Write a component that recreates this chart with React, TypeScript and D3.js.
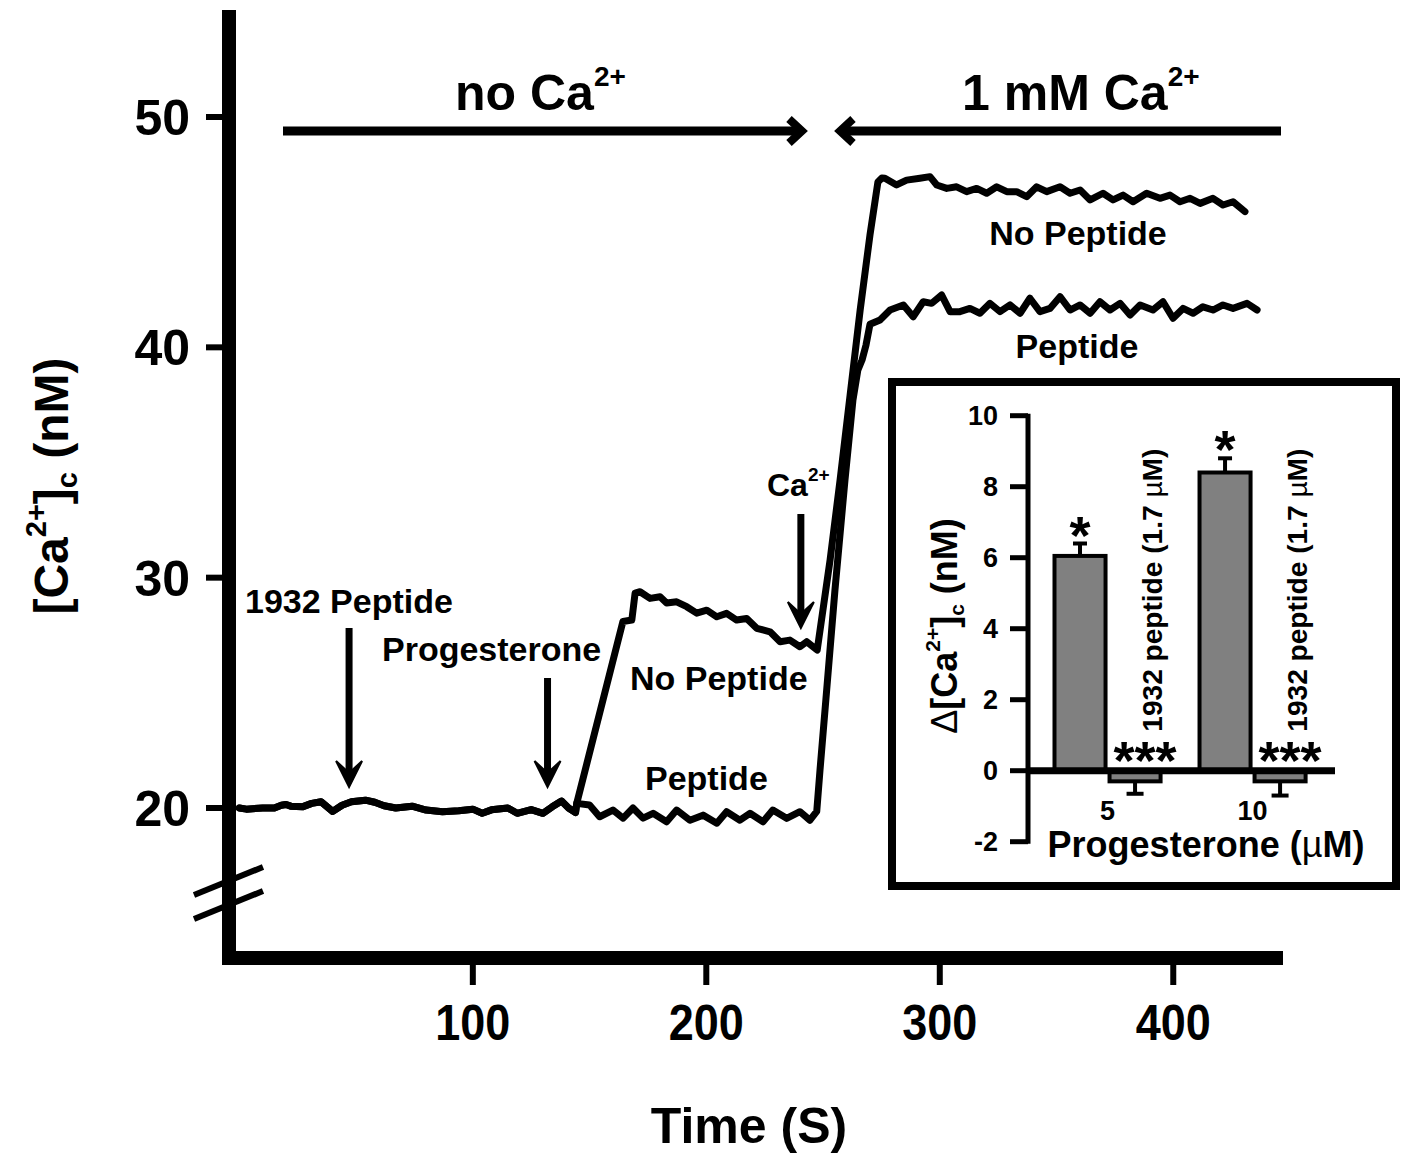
import React from "react";
import * as d3 from "d3";

// ---------- main trace data (time in s, [Ca2+]c in nM) ----------
const baselineTime = [0, 3, 10, 15, 18, 20, 22, 27, 31, 35, 40, 44, 48, 54, 58, 62, 67, 74, 80, 87, 94, 100, 104, 108, 115, 119, 125, 130, 134, 138, 141, 144];
const baselineCa = [20.0, 19.95, 20.0, 20.0, 20.12, 20.15, 20.08, 20.05, 20.2, 20.27, 19.85, 20.12, 20.27, 20.34, 20.25, 20.1, 20.0, 20.08, 19.91, 19.84, 19.88, 19.95, 19.77, 19.92, 20.0, 19.77, 19.93, 19.77, 20.05, 20.3, 20.0, 19.8];

const noPeptideTime = [144.5, 164.3, 168.1, 169.5, 171.6, 175.9, 180.2, 183, 187.3, 191.6, 195.9, 200.2, 204.5, 208.7, 213, 217.3, 221.6, 227.3, 231.6, 235.8, 240.1, 243, 247.5, 253, 257.3, 261.6, 265.9, 270.1, 273.5, 275.2, 276.5, 281.5, 285.8, 291.5, 295.8, 298.7, 303, 307.2, 311.5, 315.8, 320.1, 324.4, 328.7, 332.9, 337.2, 341.5, 345.8, 351.5, 355.8, 360.1, 364.4, 369.9, 374.2, 378.5, 382.8, 388.6, 394.3, 398.6, 402.9, 407.2, 411.5, 417, 421.3, 425.6, 430.7];
const noPeptideCa = [20.2, 28.1, 28.16, 29.33, 29.39, 29.1, 29.17, 28.9, 28.95, 28.74, 28.46, 28.59, 28.3, 28.45, 28.16, 28.23, 27.8, 27.65, 27.22, 27.29, 27.0, 27.22, 26.86, 30.76, 34.24, 37.93, 41.62, 44.88, 47.18, 47.35, 47.34, 47.05, 47.26, 47.34, 47.41, 47.05, 46.9, 46.97, 46.76, 46.9, 46.69, 46.97, 46.76, 46.76, 46.54, 46.97, 46.76, 46.97, 46.69, 46.83, 46.4, 46.69, 46.4, 46.61, 46.32, 46.69, 46.47, 46.61, 46.32, 46.47, 46.25, 46.47, 46.18, 46.32, 45.89];

const peptideTime = [144.5, 150, 154.3, 160, 164.4, 168.6, 172.9, 177.2, 183, 187.3, 193, 198.6, 204.5, 208.7, 214.4, 218.7, 224.3, 228.5, 234.4, 240.1, 244.4, 247.3, 248.7, 251.2, 255.1, 259.4, 262.8, 264.9, 266.7, 268.4, 270.1, 274.4, 278.7, 284.4, 288.6, 292.9, 296.5, 300.8, 304.4, 308.6, 312.9, 317.2, 321.5, 325.8, 330.1, 334.4, 338.6, 342.9, 347.2, 351.5, 355.8, 360.1, 364.4, 368.6, 372.9, 377.2, 381.5, 385.8, 391.3, 395.6, 399.9, 404.2, 408.5, 412.7, 417, 421.3, 425.6, 431.6, 435.9];
const peptideCa = [20.2, 20.13, 19.62, 19.91, 19.56, 20.0, 19.56, 19.77, 19.4, 19.91, 19.47, 19.69, 19.34, 19.84, 19.47, 19.77, 19.4, 19.91, 19.55, 19.84, 19.47, 19.85, 21.65, 24.69, 29.46, 34.24, 37.71, 39.01, 39.45, 40.1, 41.0, 41.19, 41.62, 41.84, 41.33, 41.98, 41.91, 42.27, 41.55, 41.55, 41.69, 41.48, 41.91, 41.55, 41.84, 41.48, 42.13, 41.55, 41.69, 42.2, 41.62, 41.84, 41.48, 41.98, 41.62, 41.91, 41.4, 41.84, 41.62, 41.98, 41.26, 41.69, 41.48, 41.76, 41.62, 41.84, 41.69, 41.91, 41.62];

const yTicks = [20, 30, 40, 50];
const xTicks = [100, 200, 300, 400];

// ---------- inset data ----------
const insetGroups = ["5", "10"];
const insetConditions = ["No peptide", "1932 peptide (1.7 µM)"];
const insetMeans = [[6.05, -0.3], [8.4, -0.3]];
const insetErrors = [[0.35, 0.35], [0.4, 0.4]];
const insetStars = [["*", "***"], ["*", "***"]];
const insetTicks = [-2, 0, 2, 4, 6, 8, 10];

const FONT = "'Liberation Sans', Arial, Helvetica, sans-serif";

function ArrowDown({ x, y1, y2 }: { x: number; y1: number; y2: number }) {
  return (
    <g>
      <line x1={x} x2={x} y1={y1} y2={y2 - 8} stroke="#000" strokeWidth={7} />
      <path d={`M${x - 13},${y2 - 26} L${x},${y2} L${x + 13},${y2 - 26} L${x},${y2 - 14} Z`} fill="#000" stroke="#000" strokeWidth={2} strokeLinejoin="miter" />
    </g>
  );
}

export default function App() {
  const x = d3.scaleLinear().domain([-4, 447]).range([230, 1283]);
  const y = d3.scaleLinear().domain([20, 50]).range([808, 117]);

  const line = d3
    .line<[number, number]>()
    .x((d) => x(d[0]))
    .y((d) => y(d[1]));

  const base: [number, number][] = baselineTime.map((t, i) => [t, baselineCa[i]]);
  const noPep: [number, number][] = base.concat(noPeptideTime.map((t, i) => [t, noPeptideCa[i]] as [number, number]));
  const pep: [number, number][] = base.concat(peptideTime.map((t, i) => [t, peptideCa[i]] as [number, number]));

  // inset scales
  const yIn = d3.scaleLinear().domain([-2, 10]).range([841.7, 415.7]);
  const xGroup = d3.scaleBand<string>().domain(insetGroups).range([1038, 1322.1]).paddingInner(0.241).paddingOuter(0.1);
  const xCond = d3.scaleBand<string>().domain(insetConditions).range([0, xGroup.bandwidth()]).padding(0);
  const bw = xCond.bandwidth();
  const starFs = 54;

  return (
    <svg width={1408} height={1158} style={{ position: "absolute", left: 0, top: 0, background: "#fff" }} fontFamily={FONT}>
      <rect x={0} y={0} width={1408} height={1158} fill="#fff" />

      {/* ----- main axes ----- */}
      <line x1={229} x2={229} y1={10} y2={965} stroke="#000" strokeWidth={14} />
      <line x1={222} x2={1283} y1={958} y2={958} stroke="#000" strokeWidth={14} />
      {yTicks.map((t) => (
        <g key={"yt" + t}>
          <line x1={206} x2={229} y1={y(t)} y2={y(t)} stroke="#000" strokeWidth={6} />
          <text x={190} y={y(t) + 18} textAnchor="end" fontSize={50} fontWeight="bold">{t}</text>
        </g>
      ))}
      {xTicks.map((t) => (
        <g key={"xt" + t}>
          <line x1={x(t)} x2={x(t)} y1={958} y2={985} stroke="#000" strokeWidth={6} />
          <g transform={`translate(${x(t)},1040) scale(0.9,1)`}>
            <text x={0} y={0} textAnchor="middle" fontSize={50} fontWeight="bold">{t}</text>
          </g>
        </g>
      ))}
      {/* axis break */}
      <line x1={194} x2={263} y1={895} y2={867} stroke="#000" strokeWidth={6} />
      <line x1={194} x2={263} y1={919} y2={891} stroke="#000" strokeWidth={6} />

      {/* axis titles */}
      <text x={749} y={1143} textAnchor="middle" fontSize={50} fontWeight="bold">Time (S)</text>
      <text transform="translate(68,486) rotate(-90)" textAnchor="middle" fontSize={48} fontWeight="bold">
        [Ca<tspan fontSize={29} dy={-22}>2+</tspan>
        <tspan dy={22}>]</tspan>
        <tspan fontSize={29} dy={9}>c</tspan>
        <tspan dy={-9}> (nM)</tspan>
      </text>

      {/* top bars */}
      <text x={455} y={110} fontSize={50} fontWeight="bold">no Ca<tspan fontSize={28} dy={-24}>2+</tspan></text>
      <text x={962} y={110} fontSize={50} fontWeight="bold">1 mM Ca<tspan fontSize={28} dy={-24}>2+</tspan></text>
      <line x1={283} x2={800} y1={131} y2={131} stroke="#000" strokeWidth={9} />
      <polyline points="789,119 802,131 789,143" fill="none" stroke="#000" strokeWidth={8} />
      <line x1={842} x2={1281} y1={131} y2={131} stroke="#000" strokeWidth={9} />
      <polyline points="853,119 840,131 853,143" fill="none" stroke="#000" strokeWidth={8} />

      {/* traces */}
      <path d={line(pep) || ""} fill="none" stroke="#000" strokeWidth={7} strokeLinejoin="round" strokeLinecap="round" />
      <path d={line(noPep) || ""} fill="none" stroke="#000" strokeWidth={7} strokeLinejoin="round" strokeLinecap="round" />

      {/* annotations */}
      <text x={245} y={613} fontSize={34} fontWeight="bold">1932 Peptide</text>
      <ArrowDown x={x(47)} y1={628} y2={787} />
      <text x={382} y={661} fontSize={34} fontWeight="bold">Progesterone</text>
      <ArrowDown x={x(132)} y1={678} y2={787} />
      <text x={630} y={690} fontSize={34} fontWeight="bold">No Peptide</text>
      <text x={645} y={790} fontSize={34} fontWeight="bold">Peptide</text>
      <text x={767} y={496} fontSize={32} fontWeight="bold">Ca<tspan fontSize={19} dy={-15}>2+</tspan></text>
      <ArrowDown x={x(240.5)} y1={514} y2={628} />
      <text x={1078} y={245} textAnchor="middle" fontSize={34} fontWeight="bold">No Peptide</text>
      <text x={1077} y={358} textAnchor="middle" fontSize={34} fontWeight="bold">Peptide</text>

      {/* ----- inset ----- */}
      <rect x={892} y={382} width={504} height={504} fill="#fff" stroke="#000" strokeWidth={8} />
      <line x1={1028} x2={1028} y1={yIn(10) - 2} y2={yIn(-2) + 2} stroke="#000" strokeWidth={5} />
      {insetTicks.map((t) => (
        <g key={"it" + t}>
          <line x1={1010} x2={1028} y1={yIn(t)} y2={yIn(t)} stroke="#000" strokeWidth={5} />
          <text x={998} y={yIn(t) + 9.5} textAnchor="end" fontSize={27} fontWeight="bold">{t}</text>
        </g>
      ))}
      {insetGroups.map((g, gi) => (
        <g key={"g" + g}>
          {insetConditions.map((c, ci) => {
            const m = insetMeans[gi][ci];
            const e = insetErrors[gi][ci];
            const bx = (xGroup(g) || 0) + (xCond(c) || 0);
            const cx = bx + bw / 2;
            const top = Math.min(yIn(m), yIn(0));
            const h = Math.abs(yIn(m) - yIn(0));
            const eEnd = m >= 0 ? m + e : m - e;
            const capW = m >= 0 ? 14 : 17;
            return (
              <g key={c}>
                <line x1={cx} x2={cx} y1={yIn(m)} y2={yIn(eEnd)} stroke="#000" strokeWidth={4} />
                <line x1={cx - capW / 2} x2={cx + capW / 2} y1={yIn(eEnd)} y2={yIn(eEnd)} stroke="#000" strokeWidth={4} />
                <rect x={bx + 2} y={top} width={bw - 4} height={h} fill="#808080" stroke="#000" strokeWidth={4} />
                {m >= 0 ? (
                  <text x={cx} y={yIn(eEnd) - 17 + starFs * 0.5} textAnchor="middle" fontSize={starFs} fontWeight="bold">{insetStars[gi][ci]}</text>
                ) : (
                  <text x={cx + 10} y={yIn(0) - 19 + starFs * 0.5} textAnchor="middle" fontSize={starFs} fontWeight="bold">{insetStars[gi][ci]}</text>
                )}
                {ci === 1 && (
                  <text transform={`translate(${bx + bw - 1},${yIn(0) - 39}) rotate(-90)`} fontSize={27} fontWeight="bold" textLength={283} lengthAdjust="spacingAndGlyphs">
                    1932 peptide (1.7 <tspan fontWeight="normal">µ</tspan>M)
                  </text>
                )}
              </g>
            );
          })}
          <text x={(xGroup(g) || 0) + xGroup.bandwidth() / 2} y={820} textAnchor="middle" fontSize={27} fontWeight="bold">{g}</text>
        </g>
      ))}
      <line x1={1026} x2={1335} y1={yIn(0)} y2={yIn(0)} stroke="#000" strokeWidth={7} />
      <text x={1206} y={857} textAnchor="middle" fontSize={36} fontWeight="bold">
        Progesterone (<tspan fontWeight="normal">µ</tspan>M)
      </text>
      <text transform="translate(957,626) rotate(-90)" textAnchor="middle" fontSize={36} fontWeight="bold">
        <tspan fontWeight="normal">Δ</tspan>[Ca<tspan fontSize={21} dy={-17}>2+</tspan>
        <tspan dy={17}>]</tspan>
        <tspan fontSize={21} dy={7}>c</tspan>
        <tspan dy={-7}> (nM)</tspan>
      </text>
    </svg>
  );
}
